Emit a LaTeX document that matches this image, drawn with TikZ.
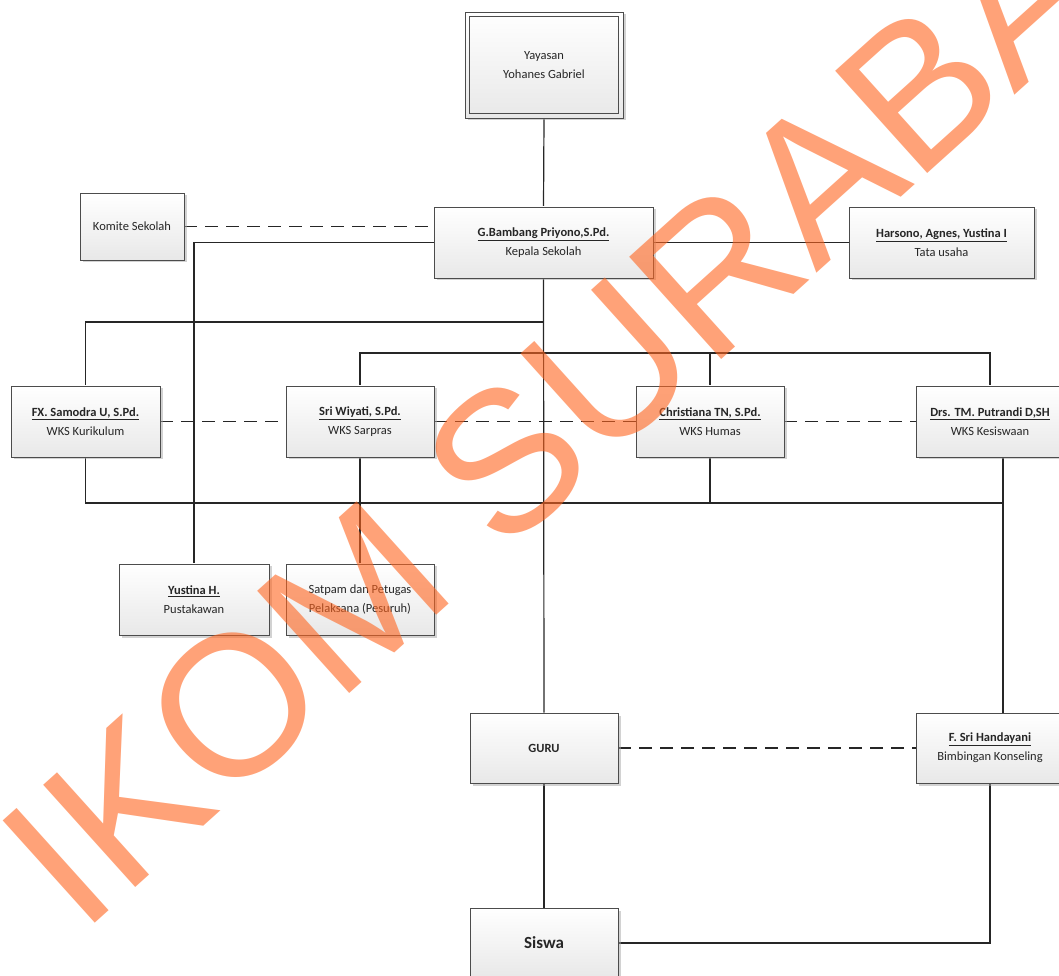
\documentclass[tikz,border=0pt]{standalone}
\usepackage{fontspec}
\setmainfont{Carlito}
\newfontfamily\wmfont{Liberation Sans}
\usetikzlibrary{shadows,backgrounds}
\definecolor{wmorange}{RGB}{255,100,30}
\tikzset{
  box/.style={rectangle, draw=black!70, line width=0.9pt, top color=white, bottom color=black!9,
    minimum width=148pt, minimum height=71pt, align=center, text=black!85,
    font=\fontsize{12.5}{19}\selectfont, inner sep=2pt,
    drop shadow={shadow xshift=2.5pt, shadow yshift=-2.5pt, fill=black!35, opacity=.5}},
  conn/.style={draw=black!85, line width=1.2pt},
  dconn/.style={conn, dash pattern=on 13pt off 8pt},
  watermark/.style={text=wmorange, text opacity=.6, font=\wmfont\fontsize{200}{200}\selectfont, inner sep=0pt},
}
\newcommand{\nm}[1]{\underline{\textbf{#1}}}
\begin{document}
\begin{tikzpicture}[x=1pt,y=1pt]
\useasboundingbox (0,0) rectangle (1059,975);
\clip (0,0) rectangle (1059,975);

\node[box, minimum width=158pt, minimum height=106pt] (yay) at (544,910) {Yayasan\\Yohanes Gabriel};
\node[box, minimum width=219pt] (kep) at (543.5,732.5) {\nm{G.Bambang Priyono,S.Pd.}\\Kepala Sekolah};
\node[box, minimum width=104pt, minimum height=67pt] (kom) at (132,748.5) {Komite Sekolah};
\node[box, minimum width=185pt] (tu) at (941.5,732.5) {\nm{Harsono, Agnes, Yustina I}\\Tata usaha};
\node[box, minimum width=149pt] (fx) at (85.5,553.5) {\nm{FX. Samodra U, S.Pd.}\\WKS Kurikulum};
\node[box] (sri) at (360,553.5) {\nm{Sri Wiyati, S.Pd.}\\WKS Sarpras};
\node[box] (chr) at (710,553.5) {\nm{Christiana TN, S.Pd.}\\WKS Humas};
\node[box] (drs) at (990,553.5) {\nm{Drs. TM. Putrandi D,SH}\\WKS Kesiswaan};
\node[box, minimum width=150pt] (yus) at (194,375.5) {\nm{Yustina H.}\\Pustakawan};
\node[box] (sat) at (360,375.5) {Satpam dan Petugas\\Pelaksana (Pesuruh)};
\node[box, minimum height=70pt] (guru) at (544,227) {\textbf{GURU}};
\node[box, minimum height=70pt] (bk) at (990,227) {\nm{F. Sri Handayani}\\Bimbingan Konseling};
\node[box, minimum height=70pt, font=\fontsize{17}{20}\selectfont] (sis) at (544,32) {\textbf{Siswa}};
\draw[black!70, line width=0.9pt] ([shift={(5,-5)}]yay.north west) rectangle ([shift={(-5,5)}]yay.south east);

\coordinate (a1) at (543.5,653);
\coordinate (b1) at (710,622);
\coordinate (c1) at (1003,472);

\begin{scope}[on background layer]
\draw[conn] (yay.south) -- (kep.north);
\draw[dconn] (kom.east) -- (kom.east -| kep.west);
\draw[conn] (yus.north) |- (kep.west);
\draw[conn] (kep.east) -- (tu.west);
\draw[conn] (kep.south) -- (guru.north);
\draw[conn] (fx.north) |- (a1);
\draw[conn] (sri.north) |- (b1) -| (drs.north);
\draw[conn] (chr.north) -- (b1);
\draw[dconn] (fx.east) -- (sri.west);
\draw[dconn] (sri.east) -- (chr.west);
\draw[dconn] (chr.east) -- (drs.west);
\draw[conn] (fx.south) |- (c1);
\draw[conn] (chr.south) -- (chr.south |- c1);
\draw[conn] ([xshift=13pt]drs.south) -- ([xshift=13pt]bk.north);
\draw[conn] (sri.south) -- (sat.north);
\draw[dconn] (guru.east) -- (bk.west);
\draw[conn] (guru.south) -- (sis.north);
\draw[conn] (bk.south) |- (sis.east);
\end{scope}

\node[watermark, rotate=42] (wm) at (640,635) {IKOM SURABAYA};
\end{tikzpicture}
\end{document}
